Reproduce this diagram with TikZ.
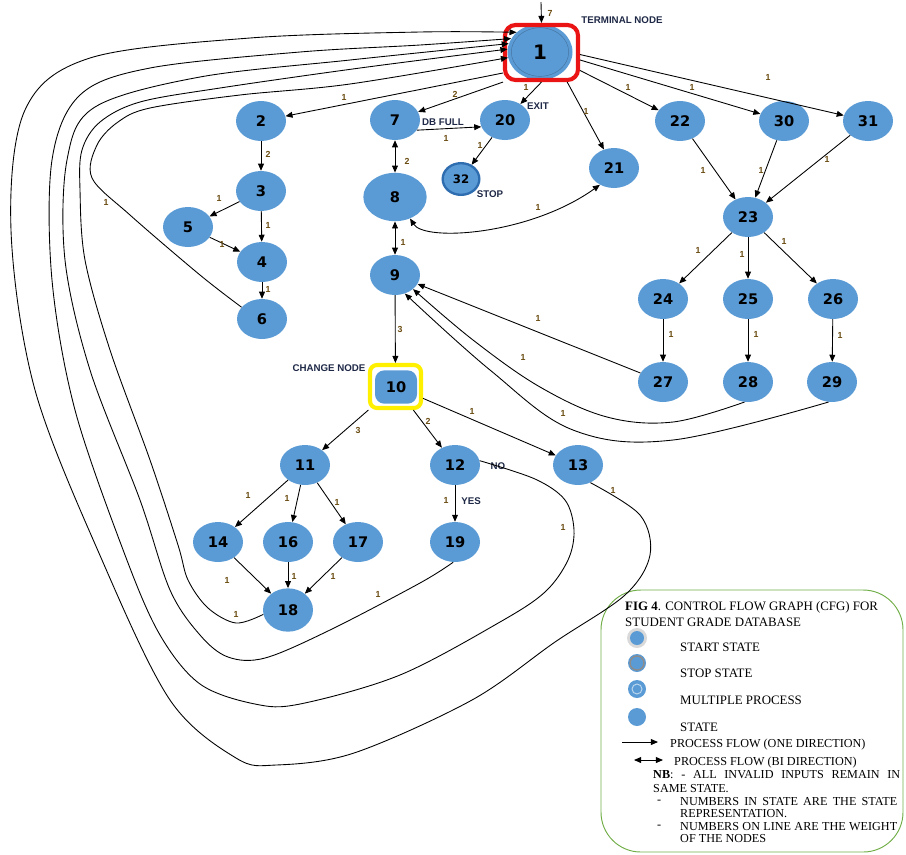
\documentclass[tikz,border=0pt]{standalone}
\usepackage{fontspec}
\setmainfont{Liberation Serif}
\newfontfamily\nodefont{DejaVu Sans}
\newfontfamily\labfont{Liberation Sans}
\usetikzlibrary{arrows.meta,shapes.geometric}
\definecolor{nodeblue}{HTML}{5B9BD5}
\definecolor{ringblue}{HTML}{2E6DB0}
\definecolor{wcol}{RGB}{105,75,15}
\definecolor{ncol}{RGB}{30,40,70}
\definecolor{legreen}{HTML}{70AD47}
\definecolor{framered}{RGB}{235,20,20}
\definecolor{frameyel}{RGB}{255,240,0}
\begin{document}
\begin{tikzpicture}[x=0.03cm,y=-0.03cm,
  st/.style={ellipse, fill=nodeblue, minimum width=1.5cm, minimum height=1.2cm, inner sep=0pt,
    font=\nodefont\bfseries\fontsize{12.5}{12.5}\selectfont},
  arr/.style={-{Triangle[length=6pt,width=5pt]}, line width=0.75pt},
  barr/.style={{Triangle[length=6pt,width=5pt]}-{Triangle[length=6pt,width=5pt]}, line width=0.75pt},
  w/.style={font=\labfont\bfseries\fontsize{7.5}{8}\selectfont, text=wcol, inner sep=0pt},
  ann/.style={font=\labfont\bfseries\fontsize{8.3}{9}\selectfont, text=ncol, inner sep=0pt},
  leg/.style={font=\fontsize{11}{12}\selectfont, inner sep=0pt, anchor=west},
  legs/.style={font=\fontsize{10.4}{12}\selectfont, inner sep=0pt, anchor=west},
  crv/.style={-{Triangle[length=6pt,width=5pt]}, line width=0.75pt},
]
\useasboundingbox (0,0) rectangle (906,854);

% legend box
\draw[legreen, line width=0.8pt, rounded corners=34pt] (601,590) rectangle (903,852);

% nodes
\node[st, minimum width=1.95cm, minimum height=1.68cm, font=\nodefont\bfseries\fontsize{17}{17}\selectfont] (n1) at (540,52) {1};
\draw[nodeblue!75!black, line width=0.4pt] (540,52) ellipse [x radius=0.86cm, y radius=0.73cm];
\node[draw=framered, line width=3.5pt, rounded corners=9pt, minimum width=2.19cm, minimum height=1.65cm] (f1) at (541.5,52.5) {};

\node[st] (n2) at (261,121) {2};
\node[st] (n3) at (261,191) {3};
\node[st] (n5) at (188,227) {5};
\node[st] (n4) at (262,262) {4};
\node[st] (n6) at (262,319) {6};
\node[st] (n7) at (395,120) {7};
\node[st] (n20) at (505,120) {20};
\node[st, minimum width=1.1cm, minimum height=0.95cm, draw=ringblue, line width=2pt,
  font=\nodefont\bfseries\fontsize{10}{10}\selectfont] (n32) at (461,179) {32};
\node[st] (n21) at (614,168) {21};
\node[st, minimum width=1.9cm, minimum height=1.45cm] (n8) at (395,197) {8};
\node[st] (n9) at (395,275) {9};
\node[fill=nodeblue, rounded corners=8pt, minimum width=1.26cm, minimum height=1.0cm, inner sep=0pt,
  font=\nodefont\bfseries\fontsize{12.5}{12.5}\selectfont] (n10) at (396,387) {10};
\node[draw=frameyel, line width=3.5pt, rounded corners=6pt, minimum width=1.53cm, minimum height=1.29cm] (f10) at (395.5,386.5) {};
\node[st] (n11) at (305,465) {11};
\node[st] (n12) at (455,465) {12};
\node[st] (n13) at (578,465) {13};
\node[st] (n14) at (218,542) {14};
\node[st] (n16) at (288,542) {16};
\node[st] (n17) at (358,542) {17};
\node[st] (n19) at (455,542) {19};
\node[st, minimum height=1.3cm] (n18) at (288,610) {18};
\node[st] (n22) at (680,121) {22};
\node[st] (n30) at (784,121) {30};
\node[st] (n31) at (868,121) {31};
\node[st] (n23) at (748,217) {23};
\node[st] (n24) at (663,299) {24};
\node[st] (n25) at (748,299) {25};
\node[st] (n26) at (833,299) {26};
\node[st] (n27) at (663,382) {27};
\node[st] (n28) at (748,382) {28};
\node[st] (n29) at (832,382) {29};

% entry
\coordinate (entry) at (541,2);
\draw[arr] (entry) -- (f1.north);
\node[w] at (550,13) {7};
\node[ann] at (622,20) {TERMINAL NODE};

% from node 1
\draw[arr] (f1.-152) -- (n2);
\draw[arr] (f1.south west) -- (n7);
\draw[arr] (f1.south) -- (n20);
\draw[arr] (f1.-49) -- (n21);
\draw[arr] (f1.-25) -- (n22);
\draw[arr] (f1.-11) -- (n30);
\draw[arr] (f1.-3) -- (n31);
\node[w] at (344,97) {1};
\node[w] at (455,94) {2};
\node[w] at (526,87) {1};
\node[ann] at (538,106) {EXIT};
\node[w] at (586,111) {1};
\node[w] at (628,87) {1};
\node[w] at (692,87) {1};
\node[w] at (768,77) {1};

% 7, 20, 32, 8, 21, 9
\draw[arr] (n7.-25) -- (n20.196);
\node[ann] at (443,122) {DB FULL};
\node[w] at (446,138) {1};
\draw[arr] (n20) -- (n32);
\node[w] at (480,145) {1};
\node[ann] at (490,194) {STOP};
\draw[barr] (n7) -- (n8);
\node[w] at (407,161) {2};
\draw[barr] (n8.-55) .. controls (425,242) and (530,235) .. (n21.-130);
\node[w] at (538,207) {1};
\draw[barr] (n8) -- (n9);
\node[w] at (403,242) {1};
\draw[arr] (n9) -- (f10);
\node[w] at (400,329) {3};
\node[ann] at (329,368) {CHANGE NODE};

% left branch
\draw[arr] (n2) -- (n3);
\node[w] at (268,154) {2};
\draw[arr] (n3) -- (n5);
\node[w] at (219,198) {1};
\draw[arr] (n3) -- (n4);
\node[w] at (268,225) {1};
\draw[arr] (n5) -- (n4);
\node[w] at (222,244) {1};
\draw[arr] (n4) -- (n6);
\node[w] at (268,289) {1};

% right branch
\draw[arr] (n22) -- (n23);
\node[w] at (703,170) {1};
\draw[arr] (n30) -- (n23);
\node[w] at (761,170) {1};
\draw[arr] (n31) -- (n23);
\node[w] at (827,159) {1};
\draw[arr] (n23) -- (n24);
\node[w] at (698,250) {1};
\draw[arr] (n23) -- (n25);
\node[w] at (742,254) {1};
\draw[arr] (n23) -- (n26);
\node[w] at (784,241) {1};
\draw[arr] (n24) -- (n27);
\node[w] at (671,334) {1};
\draw[arr] (n25) -- (n28);
\node[w] at (756,334) {1};
\draw[arr] (n26) -- (n29);
\node[w] at (840,335) {1};

% back to 9
\draw[arr] (n27) -- (n9);
\node[w] at (538,318) {1};
\draw[crv] plot[smooth, tension=0.6] coordinates {(n28.-100) (673,422) (607,417) (540,387) (473,340) (n9.-38)};
\node[w] at (523,357) {1};
\draw[crv] plot[smooth, tension=0.6] coordinates {(n29.-100) (673,440) (573,430) (490,370) (n9.-62)};
\node[w] at (563,413) {1};

% from 10
\draw[arr] (f10) -- (n11);
\node[w] at (358,430) {3};
\draw[arr] (f10) -- (n12);
\node[w] at (428,421) {2};
\draw[arr] (f10) -- (n13);
\node[w] at (472,411) {1};
\node[ann] at (498,466) {NO};

\draw[arr] (n11) -- (n14);
\node[w] at (248,495) {1};
\draw[arr] (n11) -- (n16);
\node[w] at (287,498) {1};
\draw[arr] (n11) -- (n17);
\node[w] at (337,502) {1};
\draw[arr] (n12) -- (n19);
\node[w] at (446,500) {1};
\node[ann] at (471,501) {YES};
\draw[arr] (n14) -- (n18);
\node[w] at (227,580) {1};
\draw[arr] (n16) -- (n18);
\node[w] at (294,576) {1};
\draw[arr] (n17) -- (n18);
\node[w] at (333,576) {1};

% long loops back to 1
\draw[crv] plot[smooth, tension=0.55] coordinates {(n13.-55) (640,515) (650,555) (625,595) (555,642) (472,700) (354,753) (276,765) (236,758) (170,700) (102,560) (35,390) (11,230) (25,110) (90,58) (250,38) (420,32) (n1.140)};
\node[w] at (613,490) {1};
\draw[crv] plot[smooth, tension=0.55] coordinates {(n12.10) (535,479) (565,500) (574,530) (568,560) (545,592) (500,622) (400,675) (300,704) (255,704) (200,684) (160,635) (125,555) (75,410) (52,280) (52,160) (80,95) (150,68) (300,52) (420,45) (n1.155)};
\node[w] at (563,527) {1};
\draw[crv] plot[smooth, tension=0.55] coordinates {(n19.-95) (420,583) (330,630) (265,658) (228,657) (200,635) (170,590) (140,500) (90,370) (65,260) (67,160) (95,107) (200,77) (350,60) (n1.165)};
\node[w] at (378,594) {1};
\draw[crv] plot[smooth, tension=0.55] coordinates {(n18.190) (236,623) (208,608) (188,580) (178,545) (150,460) (110,350) (85,260) (80,190) (82,150) (100,122) (140,102) (220,88) (360,68) (n1.175)};
\node[w] at (236,614) {1};
\draw[crv] plot[smooth, tension=0.55] coordinates {(n6.150) (200,275) (130,215) (92,178) (97,145) (118,122) (150,108) (240,95) (350,84) (n1.-170)};
\node[w] at (106,202) {1};

% legend
\node[leg] at (625,607) {\textbf{FIG 4}. CONTROL FLOW GRAPH (CFG) FOR};
\node[leg] at (625,622) {STUDENT GRADE DATABASE};
\fill[black!15] (637,638) circle [radius=0.3cm];
\fill[nodeblue] (637,638) circle [radius=0.21cm];
\node[leg] at (680,647) {START STATE};
\fill[nodeblue] (637,663) circle [radius=0.27cm];
\draw[black!45, line width=1.2pt] (637,663) circle [radius=0.21cm];
\node[leg] at (680,673) {STOP STATE};
\fill[nodeblue] (637,689) circle [radius=0.27cm];
\draw[white!60!nodeblue, line width=0.8pt] (637,689) circle [radius=0.15cm];
\node[leg] at (680,700) {MULTIPLE PROCESS};
\fill[nodeblue] (637,717) circle [radius=0.27cm];
\node[leg] at (680,727) {STATE};
\coordinate (la1) at (622,742);
\coordinate (la2) at (658,742);
\draw[arr] (la1) -- (la2);
\node[legs] at (670,745) {PROCESS FLOW (ONE DIRECTION)};
\coordinate (lb1) at (634,760);
\coordinate (lb2) at (663,760);
\draw[barr] (lb1) -- (lb2);
\node[legs] at (674,763) {PROCESS FLOW (BI DIRECTION)};
\node[legs] at (653,775) {\makebox[7.41cm][s]{\textbf{NB}: - ALL INVALID INPUTS REMAIN IN}};
\node[legs] at (653,789) {SAME STATE.};
\node[legs] at (657,802) {-};
\node[legs] at (680,802) {\makebox[6.51cm][s]{NUMBERS IN STATE ARE THE STATE}};
\node[legs] at (680,814) {REPRESENTATION.};
\node[legs] at (657,827) {-};
\node[legs] at (680,827) {\makebox[6.51cm][s]{NUMBERS ON LINE ARE THE WEIGHT}};
\node[legs] at (680,839) {OF THE NODES};
\end{tikzpicture}
\end{document}
